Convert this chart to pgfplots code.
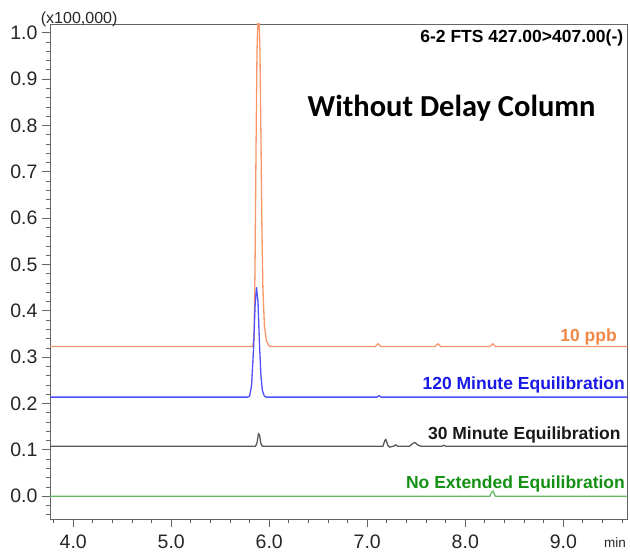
\documentclass[border=0pt]{standalone}
\usepackage{fontspec}
\setmainfont{Liberation Sans}
\newfontfamily\titlefont{Carlito}
\usepackage{pgfplots}
\pgfplotsset{compat=1.18}
\definecolor{orangeL}{RGB}{248,150,105}
\definecolor{orangeT}{RGB}{240,135,70}
\definecolor{blueL}{RGB}{80,80,255}
\definecolor{blueT}{RGB}{25,25,230}
\definecolor{blackL}{RGB}{90,90,90}
\definecolor{greenL}{RGB}{100,185,100}
\definecolor{greenT}{RGB}{20,145,20}
\definecolor{axgray}{RGB}{100,100,100}
\begin{document}
\begin{tikzpicture}
\path[use as bounding box] (0,0) rectangle (630pt,554pt);
\begin{axis}[
  scale only axis, width=577.7pt, height=495pt,
  at={(50pt,35pt)}, anchor=south west,
  xmin=3.763, xmax=9.657, ymin=-0.049, ymax=1.019,
  axis line style={axgray, line width=0.9pt},
  xtick={4,5,6,7,8,9},
  xticklabels={4.0,5.0,6.0,7.0,8.0,9.0},
  ytick={0,0.1,0.2,0.3,0.4,0.5,0.6,0.7,0.8,0.9,1.0},
  yticklabels={0.0,0.1,0.2,0.3,0.4,0.5,0.6,0.7,0.8,0.9,1.0},
  minor xtick={3.8,4.2,4.4,4.6,4.8,5.2,5.4,5.6,5.8,6.2,6.4,6.6,6.8,7.2,7.4,7.6,7.8,8.2,8.4,8.6,8.8,9.2,9.4,9.6},
  minor ytick={-0.04,-0.02,0.02,0.04,0.06,0.08,0.12,0.14,0.16,0.18,0.22,0.24,0.26,0.28,0.32,0.34,0.36,0.38,0.42,0.44,0.46,0.48,0.52,0.54,0.56,0.58,0.62,0.64,0.66,0.68,0.72,0.74,0.76,0.78,0.82,0.84,0.86,0.88,0.92,0.94,0.96,0.98},
  tick align=outside, xtick pos=left, ytick pos=left,
  major tick length=8pt, minor tick length=4.5pt,
  tick style={axgray, line width=0.9pt},
  ticklabel style={font=\fontsize{19.5}{21}\selectfont, text=black!85},
  xticklabel style={yshift=-4pt},
  yticklabel style={xshift=-1pt},
  /pgf/number format/assume math mode=true,
  clip=true,
]
% 10 ppb (orange)
\addplot[orangeL, line width=1.3pt] coordinates {
(3.763,0.323) (5.80,0.323) (5.83,0.324) (5.845,0.34) (5.855,0.50) (5.865,0.75)
(5.875,0.96) (5.885,1.04) (5.895,1.04) (5.905,0.96) (5.915,0.78) (5.925,0.58)
(5.935,0.45) (5.95,0.37) (5.97,0.335) (6.00,0.324) (6.05,0.323)
(7.08,0.323) (7.11,0.329) (7.14,0.323)
(7.69,0.323) (7.72,0.329) (7.75,0.323)
(8.25,0.323) (8.28,0.329) (8.31,0.323) (9.657,0.323)
};
% 120 min (blue)
\addplot[blueL, line width=1.3pt] coordinates {
(3.763,0.214) (5.78,0.214) (5.80,0.216) (5.82,0.24) (5.84,0.32) (5.855,0.41)
(5.87,0.451) (5.885,0.42) (5.90,0.33) (5.915,0.26) (5.93,0.228) (5.95,0.216)
(5.97,0.214) (7.10,0.214) (7.12,0.217) (7.14,0.214) (9.657,0.214)
};
% 30 min (black)
\addplot[blackL, line width=1.3pt] coordinates {
(3.763,0.108) (5.86,0.108) (5.875,0.115) (5.89,0.135) (5.90,0.133) (5.915,0.113) (5.93,0.108)
(7.16,0.108) (7.18,0.121) (7.19,0.1225) (7.21,0.110) (7.23,0.106) (7.26,0.108)
(7.27,0.108) (7.29,0.111) (7.31,0.108)
(7.43,0.108) (7.47,0.115) (7.49,0.1155) (7.52,0.110) (7.55,0.108)
(7.76,0.108) (7.78,0.110) (7.80,0.108) (9.657,0.108)
};
% No extended (green)
\addplot[greenL, line width=1.3pt] coordinates {
(3.763,0.0) (8.25,0.0) (8.27,0.009) (8.285,0.011) (8.30,0.003) (8.31,0.0) (9.657,0.0)
};
\node[anchor=base east, font=\fontsize{17.5}{19}\selectfont\bfseries, text=black] at (axis cs:9.647,0.978) {6-2 FTS 427.00>407.00(-)};
\node[anchor=base, font=\titlefont\fontsize{30.5}{33}\selectfont\bfseries, text=black] at (axis cs:7.86,0.8186) {Without Delay Column};
\node[anchor=base east, font=\fontsize{17.5}{19}\selectfont\bfseries, text=orangeT, inner sep=0pt] at (axis cs:9.548,0.335) {10 ppb};
\node[anchor=base east, font=\fontsize{17.5}{19}\selectfont\bfseries, text=blueT, inner sep=0pt] at (axis cs:9.63,0.2305) {120 Minute Equilibration};
\node[anchor=base east, font=\fontsize{17.5}{19}\selectfont\bfseries, text=black!90, inner sep=0pt] at (axis cs:9.586,0.1235) {30 Minute Equilibration};
\node[anchor=base east, font=\fontsize{17.5}{19}\selectfont\bfseries, text=greenT, inner sep=0pt] at (axis cs:9.63,0.0173) {No Extended Equilibration};
\end{axis}
\node[anchor=base west, inner sep=0pt, font=\fontsize{16}{17}\selectfont, text=black!85] at (40.7pt,530.5pt) {(x100,000)};
\node[anchor=base west, inner sep=0pt, font=\fontsize{13.5}{15}\selectfont, text=black!85] at (604pt,6pt) {min};
\end{tikzpicture}
\end{document}
